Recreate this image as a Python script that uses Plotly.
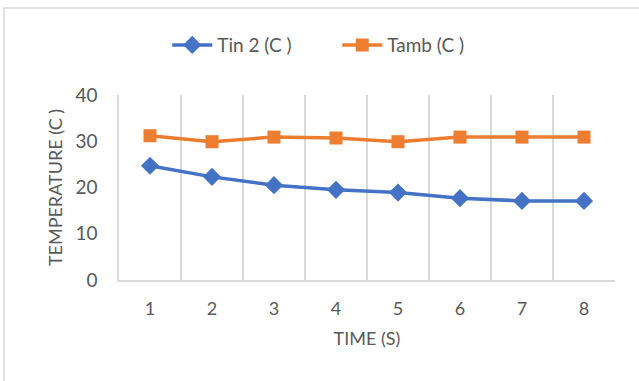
import plotly.graph_objects as go

# Time steps and measured temperatures
time_s = [1, 2, 3, 4, 5, 6, 7, 8]
tin2_c = [24.7, 22.3, 20.5, 19.5, 18.9, 17.7, 17.1, 17.1]
tamb_c = [31.2, 29.9, 30.9, 30.7, 29.9, 30.9, 30.9, 30.9]
y_ticks = [0, 10, 20, 30, 40]

FONT = "Lato"
GREY_TEXT = "#595959"
GRID = "#d9d9d9"

fig = go.Figure()
fig.add_trace(go.Scatter(
    x=time_s, y=tin2_c, name="Tin 2 (C )", mode="lines+markers",
    line=dict(color="#4472C4", width=3.5),
    marker=dict(symbol="diamond", size=14, color="#4472C4"),
))
fig.add_trace(go.Scatter(
    x=time_s, y=tamb_c, name="Tamb (C )", mode="lines+markers",
    line=dict(color="#ED7D31", width=3.5),
    marker=dict(symbol="square", size=13, color="#ED7D31"),
))

# category boundaries for the vertical grid
bounds = [t - 0.5 for t in time_s] + [time_s[-1] + 0.5]

fig.update_layout(
    width=639, height=381,
    margin=dict(l=119, r=24, t=95, b=101),
    paper_bgcolor="white", plot_bgcolor="white",
    font=dict(family=FONT, color=GREY_TEXT, size=18),
    showlegend=True,
    legend=dict(orientation="h", x=0.44, xanchor="center", y=1.27, yanchor="middle",
                font=dict(size=19, color=GREY_TEXT), itemwidth=40,
                entrywidth=115, entrywidthmode="pixels"),
    xaxis=dict(
        range=[0.5, 8.5], tickvals=time_s, ticktext=[str(t) for t in time_s],
        showgrid=False, showline=True, linecolor=GRID, linewidth=1.5,
        zeroline=False, ticks="", ticklabelstandoff=12,
        minor=dict(tickvals=bounds, showgrid=True, gridcolor=GRID, gridwidth=1.6, ticks=""),
        title=dict(text="TIME (S)", font=dict(size=18, color=GREY_TEXT), standoff=14),
        tickfont=dict(size=18, color=GREY_TEXT),
    ),
    yaxis=dict(
        range=[0, 40], tickvals=y_ticks, showgrid=False, zeroline=False,
        showline=True, linecolor=GRID, linewidth=1.5, ticks="", ticklabelstandoff=16,
        title=dict(text="TEMPERATURE (C )", font=dict(size=18, color=GREY_TEXT), standoff=8),
        tickfont=dict(size=19, color=GREY_TEXT),
    ),
    shapes=[dict(
        type="rect", xref="paper", yref="paper",
        x0=(4 - 119) / 496, x1=1.2, y0=-1.0, y1=(280 - 8) / 185,
        line=dict(color=GRID, width=1.5), fillcolor="rgba(0,0,0,0)", layer="below",
    )],
)

fig.write_html("out.html")
